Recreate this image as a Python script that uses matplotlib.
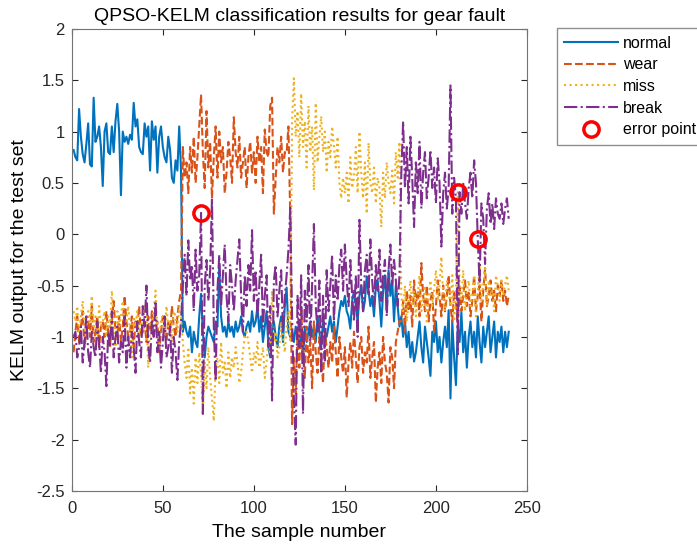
import numpy as np
import matplotlib
matplotlib.use('Agg')
import matplotlib.pyplot as plt

plt.rcParams['font.family'] = ['Liberation Sans', 'DejaVu Sans']
plt.rcParams['axes.unicode_minus'] = False

#%% data: KELM outputs for each class over the 240 test samples
normal = [0.82,0.75,0.72,1.22,0.95,0.78,0.70,0.88,1.08,0.68,0.66,1.33,0.90,0.95,1.05,0.85,0.47,1.00,1.08,0.80,
          0.78,1.05,0.80,1.10,1.27,1.00,0.38,1.00,0.90,0.95,0.88,0.97,0.92,1.28,1.05,1.12,0.85,0.80,0.78,1.08,
          0.95,1.05,0.62,1.10,0.92,1.05,0.60,0.95,1.05,0.85,0.75,0.70,0.95,0.82,0.55,0.50,0.72,0.62,1.05,0.62,
          -0.95,-0.85,-0.95,-1.00,-0.90,-1.15,-0.95,-1.05,-1.10,-0.80,-0.58,-0.95,-1.20,-1.00,-0.90,-0.95,-1.00,-1.05,-0.85,-0.90,
          -0.30,-0.80,-0.95,-0.90,-1.00,-0.85,-0.95,-0.90,-1.00,-0.85,-0.95,-0.90,-0.80,-0.95,-1.00,-0.90,-0.85,-0.95,-0.75,-0.90,
          -0.85,-0.70,-0.95,-0.80,-1.05,-0.90,-0.75,-1.10,-1.20,-0.95,-0.85,-1.00,-1.10,-0.90,-0.80,-1.05,-0.70,-0.52,-0.95,-1.00,
          -0.95,-1.05,-0.90,-1.00,-1.10,-0.95,-1.21,-0.90,-1.05,-0.95,-0.85,-1.00,-0.90,-1.05,-0.80,-0.95,-1.10,-0.85,-0.95,-1.00,
          -0.90,-0.80,-0.95,-0.85,-1.05,-0.90,-0.75,-0.65,-0.70,-0.60,-0.75,-0.80,-0.92,-0.65,-0.55,-0.70,-0.85,-0.60,-0.50,-0.75,
          -0.65,-0.41,-0.55,-0.70,-0.60,-0.80,-0.50,-0.45,-0.65,-0.90,-0.55,-0.40,-0.75,-0.35,-0.60,-0.45,-0.85,-0.50,-0.70,-0.90,
          -0.80,-1.00,-0.85,-1.10,-0.95,-1.20,-1.05,-1.24,-1.15,-1.00,-0.85,-1.10,-1.25,-0.90,-1.05,-1.20,-1.38,-0.95,-1.05,-0.85,
          -1.15,-1.00,-1.25,-1.05,-0.90,-1.10,-0.74,-1.60,-0.85,-1.20,-1.47,-0.90,-1.05,-0.76,-1.15,-0.95,-1.30,-1.00,-0.85,-1.10,
          -0.95,-1.20,-0.80,-1.05,-1.25,-0.90,-1.10,-0.95,-0.80,-1.15,-1.00,-0.85,-1.20,-0.95,-1.05,-0.90,-1.15,-0.95,-1.10,-0.95]

wear = [-1.15,-0.95,-0.80,-1.05,-0.90,-0.75,-1.10,-0.95,-0.85,-1.00,-0.70,-1.05,-0.95,-0.80,-1.10,-0.90,-0.85,-1.00,-0.75,-0.95,
        -1.10,-0.85,-0.65,-0.95,-1.00,-0.80,-1.05,-0.90,-0.60,-0.85,-1.00,-0.95,-0.80,-1.10,-0.85,-0.90,-0.70,-1.00,-0.95,-0.85,
        -1.05,-0.80,-0.95,-0.75,-1.00,-0.90,-0.85,-1.15,-0.95,-0.80,-0.90,-1.05,-0.85,-0.95,-0.70,-0.90,-1.00,-0.80,-0.65,-0.55,
        0.85,0.55,0.70,0.40,0.85,0.60,0.95,0.50,0.75,1.05,1.36,0.80,0.45,1.20,0.65,0.90,0.35,0.75,1.05,0.55,
        1.00,0.70,0.85,0.40,0.60,0.90,0.75,0.50,1.14,0.80,0.65,0.95,0.55,0.70,0.85,0.45,0.75,0.90,0.60,0.80,
        0.50,0.95,0.70,0.85,0.40,1.02,0.80,0.75,1.25,1.33,0.20,0.55,0.85,0.70,0.95,0.60,0.80,0.79,1.05,0.17,
        -1.85,-1.20,-1.55,-0.95,-1.30,-0.74,-1.10,-1.40,-0.90,-1.25,-1.05,-1.50,-0.85,-1.15,-1.35,-1.00,-1.20,-1.45,-0.95,-1.10,
        -1.30,-1.05,-1.25,-0.90,-1.15,-1.40,-1.00,-1.20,-1.35,-1.10,-1.59,-1.25,-1.05,-1.30,-0.95,-1.20,-1.45,-1.10,-1.00,-1.35,
        -1.15,-1.25,-0.90,-1.40,-1.20,-1.05,-1.64,-1.30,-1.15,-1.45,-1.00,-1.25,-1.35,-1.64,-1.10,-1.20,-1.50,-1.05,-0.95,-0.84,
        -0.85,-0.65,-0.95,-0.55,-0.75,-0.60,-0.90,-0.45,-0.70,-0.55,-0.80,-0.28,-0.60,-0.75,-0.50,-0.85,-0.65,-0.55,-0.95,-0.70,
        -0.45,-0.60,-0.80,-0.50,-0.75,-0.60,-0.40,-0.70,-0.85,-0.55,-0.65,-0.90,-0.50,-0.75,-0.60,-0.45,-0.70,-0.55,-0.80,-0.65,
        -0.40,-0.75,-0.60,-0.50,-0.85,-0.55,-0.33,-0.70,-0.60,-0.45,-0.65,-0.55,-0.75,-0.50,-0.60,-0.45,-0.65,-0.55,-0.70,-0.60]

miss = [-0.75,-0.85,-0.70,-0.95,-0.80,-0.65,-0.90,-1.00,-0.75,-0.85,-0.60,-0.95,-0.80,-1.05,-0.70,-0.90,-0.85,-0.75,-1.00,-0.80,
        -0.95,-0.55,-0.85,-1.10,-0.75,-0.90,-0.80,-0.65,-1.00,-0.85,-0.70,-0.95,-1.20,-0.80,-0.90,-0.75,-1.05,-0.85,-0.95,-0.70,
        -0.80,-1.30,-0.85,-0.90,-0.75,-0.55,-0.95,-1.10,-0.85,-0.80,-1.00,-0.70,-0.90,-0.85,-1.05,-0.75,-0.80,-0.95,-0.70,-0.80,
        -1.05,-1.25,-1.40,-1.10,-1.55,-1.30,-1.65,-1.20,-1.45,-1.15,-1.35,-1.75,-1.25,-1.50,-1.10,-1.40,-1.60,-1.82,-1.30,-1.20,
        -1.45,-1.05,-1.35,-1.25,-1.50,-1.15,-1.40,-1.20,-1.30,-1.10,-1.25,-1.45,-1.35,-1.15,-1.00,-0.95,-1.05,-1.20,-1.35,-1.15,
        -1.25,-1.05,-1.30,-1.20,-1.10,-1.40,-1.25,-1.00,-1.15,-0.55,-1.05,-0.95,-1.20,-1.10,-0.85,-1.00,-1.15,-0.90,-0.75,-1.05,
        1.10,1.52,0.95,1.20,0.75,1.37,0.85,1.10,0.65,1.25,0.80,1.05,0.43,1.28,0.70,0.95,1.15,0.80,1.00,0.60,
        0.90,0.75,1.05,0.85,0.65,0.95,0.50,0.35,0.55,0.40,0.60,0.30,0.75,0.45,0.55,0.85,0.40,1.00,0.60,0.35,
        0.70,0.20,0.89,0.50,0.40,0.65,0.30,0.55,0.45,0.07,0.60,0.35,0.70,0.50,0.40,0.62,0.30,0.80,0.55,0.90,
        -0.60,-0.75,-0.50,-0.85,-0.65,-0.45,-0.70,-0.55,-0.80,-0.60,-0.40,-0.75,-0.65,-0.50,-0.85,-0.60,-0.45,-0.70,-0.55,-0.35,
        -0.65,-0.50,-0.22,-0.60,-0.75,-0.45,-0.55,-0.70,-0.40,-0.85,-0.60,0.41,-0.50,-0.65,-0.35,-0.75,-0.55,-0.45,-0.70,-0.60,
        -0.40,-0.80,-0.55,-0.30,-0.65,-0.50,-0.33,-0.70,-0.45,-0.60,-0.55,-0.75,-0.40,-0.50,-0.65,-0.45,-0.60,-0.50,-0.40,-0.55]

brk = [-1.00,-0.95,-1.20,-1.10,-0.90,-1.25,-1.05,-0.80,-1.15,-1.30,-0.95,-1.10,-1.20,-0.85,-1.05,-1.35,-1.00,-1.15,-1.48,-0.95,
       -1.10,-0.75,-1.20,-1.00,-0.90,-1.25,-1.05,-1.15,-0.80,-1.30,-1.00,-1.20,-0.95,-1.10,-1.35,-0.85,-1.05,-1.20,-0.70,-0.90,
       -0.50,-1.10,-1.25,-0.85,-1.00,-0.65,-1.15,-0.95,-1.30,-1.05,-0.80,-1.20,-1.10,-0.90,-1.35,-1.00,-1.15,-1.42,-1.05,-0.85,
       -0.50,-0.20,-0.60,-0.06,-0.45,-0.30,-0.75,-0.15,-0.55,-0.40,0.22,-1.75,-0.50,-0.25,-0.65,-0.35,0.35,-0.90,-1.43,-0.55,
       -0.20,-0.70,-0.40,-0.10,-0.60,-0.85,-0.30,-0.50,-0.75,-0.45,-0.25,-0.05,-0.60,-0.95,-0.40,-0.70,-0.30,-0.55,0.04,-0.65,
       -0.35,-0.80,-0.50,-0.20,-0.90,-0.60,-0.40,-1.10,-0.70,-1.62,-0.45,-0.30,-0.80,-0.55,-0.35,-0.95,-0.60,-0.40,-0.15,0.26,
       -0.80,-1.60,-2.05,-0.60,-1.10,-0.40,-1.75,-0.55,-0.85,-0.30,-1.05,-0.50,0.10,-0.70,-0.95,-0.45,-1.36,-0.60,-1.23,-0.35,
       -0.75,-0.50,-0.20,-0.85,-0.40,-0.65,-0.30,-0.15,-0.55,-0.10,-0.45,-0.70,-0.25,-0.60,-0.85,-0.40,-1.00,0.14,-0.50,-0.75,
       -0.35,-0.20,-0.60,-0.05,-0.45,-0.70,-0.30,-0.55,-0.15,-0.65,-0.40,-0.25,-0.80,-0.35,-0.10,-0.50,-0.25,-0.45,-0.70,-0.40,
       0.60,1.10,0.45,0.85,0.30,0.95,0.55,0.07,0.70,0.40,0.90,0.25,0.60,0.80,0.35,0.55,0.82,0.45,0.65,0.30,
       0.74,0.50,-0.12,0.40,0.60,0.25,0.45,1.45,0.20,0.55,0.35,-1.17,0.41,0.20,0.50,0.30,0.15,0.45,0.60,0.35,
       0.72,0.50,-0.05,-0.48,0.30,0.15,-0.29,0.25,0.40,0.10,0.30,0.05,0.35,0.20,0.15,0.30,0.10,0.25,0.35,0.15]

err_x = [71, 212, 223]
err_y = [0.21, 0.41, -0.05]

#%% plot
fig = plt.figure(figsize=(6.97, 5.46), dpi=100)
ax = fig.add_axes([0.103, 0.101, 0.653, 0.846])

ax.plot(np.arange(1, len(normal) + 1), normal, '-', color='#0072BD', lw=1.5, label='normal')
ax.plot(np.arange(1, len(wear) + 1), wear, '--', color='#D95319', lw=1.5, label='wear')
ax.plot(np.arange(1, len(miss) + 1), miss, ':', color='#EDB120', lw=1.5, label='miss')
ax.plot(np.arange(1, len(brk) + 1), brk, '-.', color='#7E2F8E', lw=1.5, label='break')
ax.plot(err_x, err_y, 'o', ls='none', mfc='none', mec='red', ms=11, mew=2.5, label='error point')

ax.set_xlim(0, 250)
ax.set_ylim(-2.5, 2)
ax.set_xticks(range(0, 251, 50))
ax.set_yticks(np.arange(-2.5, 2.01, 0.5))
ax.set_yticklabels(['-2.5', '-2', '-1.5', '-1', '-0.5', '0', '0.5', '1', '1.5', '2'])
ax.tick_params(direction='in', top=True, right=True, labelsize=12, colors='0.15', length=4)
ax.tick_params(axis='x', pad=7)
ax.tick_params(axis='y', pad=5)
for s in ax.spines.values():
    s.set_color('0.45')
    s.set_linewidth(0.8)

ax.set_title('QPSO-KELM classification results for gear fault', fontsize=14, pad=6)
ax.set_xlabel('The sample number', fontsize=14, labelpad=6)
ax.set_ylabel('KELM output for the test set', fontsize=14, labelpad=6)

fig.legend(loc='upper left', bbox_to_anchor=(0.799, 0.948), fontsize=11.5, handlelength=3.4,
           handletextpad=0.3, frameon=True, fancybox=False, edgecolor='0.45', borderaxespad=0,
           labelspacing=0.42, borderpad=0.45)

fig.savefig('out.png', dpi=100)
